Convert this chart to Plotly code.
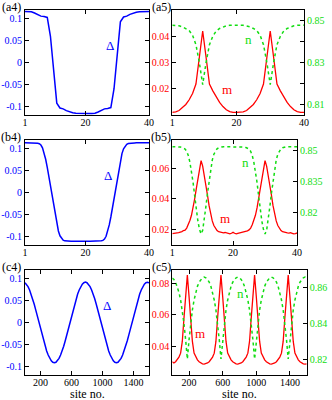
import plotly.graph_objects as go

W, H = 332, 400

# ---- row a: 40 sites ----
site_a = list(range(1, 41))
delta_a = [0.1165, 0.1165, 0.1160, 0.1130, 0.1090, 0.1060, 0.1050, 0.1030, 0.0600, -0.0250,
           -0.0930, -0.1040, -0.1060, -0.1100, -0.1130, -0.1150, -0.1160, -0.1165, -0.1165, -0.1165,
           -0.1165, -0.1165, -0.1160, -0.1130, -0.1090, -0.1060, -0.1050, -0.1030, -0.0600, 0.0250,
           0.0930, 0.1040, 0.1060, 0.1100, 0.1130, 0.1150, 0.1160, 0.1165, 0.1165, 0.1165]
m_a = [0.0110, 0.0112, 0.0117, 0.0127, 0.0140, 0.0158, 0.0182, 0.0218, 0.0320, 0.0420,
       0.0320, 0.0218, 0.0192, 0.0168, 0.0148, 0.0132, 0.0120, 0.0113, 0.0110, 0.0110,
       0.0110, 0.0112, 0.0117, 0.0127, 0.0140, 0.0158, 0.0182, 0.0218, 0.0320, 0.0420,
       0.0320, 0.0218, 0.0192, 0.0168, 0.0148, 0.0132, 0.0120, 0.0113, 0.0110, 0.0110]
n_a = [0.8477, 0.8477, 0.8475, 0.8470, 0.8462, 0.8452, 0.8430, 0.8385, 0.8300, 0.8195,
       0.8300, 0.8385, 0.8425, 0.8450, 0.8462, 0.8470, 0.8475, 0.8477, 0.8478, 0.8478,
       0.8477, 0.8477, 0.8475, 0.8470, 0.8462, 0.8452, 0.8430, 0.8385, 0.8300, 0.8195,
       0.8300, 0.8385, 0.8425, 0.8450, 0.8462, 0.8470, 0.8475, 0.8477, 0.8478, 0.8478]

# ---- row b: 40 sites, half-site grid ----
site_b = [1 + 0.5 * i for i in range(79)]
delta_b = [0.1135, 0.1135, 0.1135, 0.1135, 0.1135, 0.1134, 0.1133, 0.1130, 0.1125,
           0.1115, 0.1085, 0.1020, 0.0910, 0.0760, 0.0575, 0.0370, 0.0150, -0.0075, -0.0300,
           -0.0520, -0.0720, -0.0880, -0.0990, -0.1055, -0.1090, -0.1105, -0.1112,
           -0.1115, -0.1116, -0.1116, -0.1115, -0.1114, -0.1113, -0.1112, -0.1113, -0.1114, -0.1112,
           -0.1106, -0.1098, -0.1104, -0.1112, -0.1114, -0.1115, -0.1116, -0.1116, -0.1115, -0.1113,
           -0.1110, -0.1105,
           -0.1095, -0.1065, -0.1000, -0.0890, -0.0740, -0.0560, -0.0355, -0.0135, 0.0090, 0.0315,
           0.0535, 0.0735, 0.0890, 0.1000, 0.1065, 0.1100, 0.1118, 0.1126,
           0.1130, 0.1133, 0.1134, 0.1135, 0.1135, 0.1135, 0.1135, 0.1135, 0.1135, 0.1135, 0.1135, 0.1135]
m_b = [0.0172, 0.0175, 0.0177, 0.0177, 0.0178, 0.0180, 0.0185, 0.0192, 0.0195, 0.0208,
       0.0230, 0.0258, 0.0292, 0.0340, 0.0400, 0.0465, 0.0530, 0.0595, 0.0650, 0.0615,
       0.0560, 0.0495, 0.0425, 0.0355, 0.0298, 0.0255, 0.0225, 0.0205, 0.0192, 0.0184,
       0.0180, 0.0178, 0.0177, 0.0179, 0.0177, 0.0173, 0.0170, 0.0174, 0.0180, 0.0174,
       0.0170, 0.0173, 0.0176, 0.0178, 0.0178, 0.0180, 0.0184, 0.0190, 0.0196, 0.0208,
       0.0230, 0.0258, 0.0292, 0.0340, 0.0400, 0.0465, 0.0530, 0.0595, 0.0650, 0.0615,
       0.0560, 0.0495, 0.0425, 0.0355, 0.0298, 0.0255, 0.0225, 0.0205, 0.0192, 0.0184,
       0.0180, 0.0178, 0.0177, 0.0175, 0.0178, 0.0174, 0.0170, 0.0172, 0.0176]
n_b = [0.8516, 0.8516, 0.8516, 0.8515, 0.8515, 0.8514, 0.8512, 0.8510, 0.8505, 0.8494,
       0.8474, 0.8442, 0.8400, 0.8345, 0.8280, 0.8215, 0.8160, 0.8120, 0.8098, 0.8115,
       0.8165, 0.8228, 0.8292, 0.8355, 0.8410, 0.8452, 0.8480, 0.8497, 0.8506, 0.8511,
       0.8514, 0.8515, 0.8516, 0.8516, 0.8516, 0.8516, 0.8516, 0.8516, 0.8516, 0.8516,
       0.8516, 0.8516, 0.8516, 0.8515, 0.8515, 0.8514, 0.8512, 0.8510, 0.8505, 0.8494,
       0.8474, 0.8442, 0.8400, 0.8345, 0.8280, 0.8215, 0.8160, 0.8120, 0.8098, 0.8115,
       0.8165, 0.8228, 0.8292, 0.8355, 0.8410, 0.8452, 0.8480, 0.8497, 0.8506, 0.8511,
       0.8514, 0.8515, 0.8516, 0.8516, 0.8516, 0.8516, 0.8516, 0.8516, 0.8516]

# ---- row c: 1600 sites, read every 20 sites ----
site_c = [1] + list(range(20, 1601, 20))
delta_c = [0.0907, 0.0875, 0.0820, 0.0744, 0.0651, 0.0541, 0.0418, 0.0284, 0.0144, 0.0000,
           -0.0144, -0.0284, -0.0418, -0.0541, -0.0651, -0.0744, -0.0820, -0.0875, -0.0909, -0.0920,
           -0.0909, -0.0875, -0.0820, -0.0744, -0.0651, -0.0541, -0.0418, -0.0284, -0.0144, 0.0000,
           0.0144, 0.0284, 0.0418, 0.0541, 0.0651, 0.0744, 0.0820, 0.0875, 0.0909, 0.0922,
           0.0909, 0.0875, 0.0820, 0.0744, 0.0651, 0.0541, 0.0418, 0.0284, 0.0144, 0.0000,
           -0.0144, -0.0284, -0.0418, -0.0541, -0.0651, -0.0744, -0.0820, -0.0875, -0.0909, -0.0920,
           -0.0909, -0.0875, -0.0820, -0.0744, -0.0651, -0.0541, -0.0418, -0.0284, -0.0144, 0.0000,
           0.0144, 0.0284, 0.0418, 0.0541, 0.0651, 0.0744, 0.0820, 0.0875, 0.0909, 0.0920, 0.0909]
m_c = [0.0300, 0.0292, 0.0300, 0.0312, 0.0330, 0.0355, 0.0430, 0.0580, 0.0720, 0.0855,
       0.0720, 0.0580, 0.0430, 0.0355, 0.0330, 0.0312, 0.0300, 0.0292, 0.0287, 0.0285,
       0.0287, 0.0292, 0.0300, 0.0312, 0.0330, 0.0355, 0.0430, 0.0580, 0.0720, 0.0855,
       0.0720, 0.0580, 0.0430, 0.0355, 0.0330, 0.0312, 0.0300, 0.0292, 0.0287, 0.0285,
       0.0287, 0.0292, 0.0300, 0.0312, 0.0330, 0.0355, 0.0430, 0.0580, 0.0720, 0.0855,
       0.0720, 0.0580, 0.0430, 0.0355, 0.0330, 0.0312, 0.0300, 0.0292, 0.0287, 0.0285,
       0.0287, 0.0292, 0.0300, 0.0312, 0.0330, 0.0355, 0.0430, 0.0580, 0.0720, 0.0855,
       0.0720, 0.0580, 0.0430, 0.0355, 0.0330, 0.0312, 0.0300, 0.0292, 0.0287, 0.0285, 0.0287]
n_c = [0.8650, 0.8643, 0.8628, 0.8605, 0.8572, 0.8530, 0.8475, 0.8400, 0.8310, 0.8205,
       0.8310, 0.8400, 0.8475, 0.8530, 0.8572, 0.8605, 0.8628, 0.8643, 0.8652, 0.8656,
       0.8652, 0.8643, 0.8628, 0.8605, 0.8572, 0.8530, 0.8475, 0.8400, 0.8310, 0.8205,
       0.8310, 0.8400, 0.8475, 0.8530, 0.8572, 0.8605, 0.8628, 0.8643, 0.8652, 0.8656,
       0.8652, 0.8643, 0.8628, 0.8605, 0.8572, 0.8530, 0.8475, 0.8400, 0.8310, 0.8205,
       0.8310, 0.8400, 0.8475, 0.8530, 0.8572, 0.8605, 0.8628, 0.8643, 0.8652, 0.8656,
       0.8652, 0.8643, 0.8628, 0.8605, 0.8572, 0.8530, 0.8475, 0.8400, 0.8310, 0.8205,
       0.8310, 0.8400, 0.8475, 0.8530, 0.8572, 0.8605, 0.8628, 0.8643, 0.8652, 0.8656, 0.8652]

BLUE, RED, GREEN = "#0000ff", "#ff0000", "#11dd11"
FONT = "Liberation Serif"


def px_x(p):
    return p / W


def px_y(p):
    return 1 - p / H


rows = {"a": (10, 115), "b": (140, 245), "c": (270, 375)}
left_col = (25, 149)
right_end = {"a": 304, "b": 297, "c": 306.7}

fig = go.Figure()

base_ax = dict(showline=True, linecolor="black", linewidth=1, ticks="inside", ticklen=4,
               tickcolor="black", showgrid=False, zeroline=False, automargin=False,
               tickfont=dict(family=FONT, size=10, color="black"))


def xax(dom, anchor, rng, tv, tt):
    return dict(base_ax, domain=dom, anchor=anchor, range=rng, tickvals=tv, ticktext=tt,
                mirror="ticks", ticklabelstandoff=-2)


def yax(dom, anchor, rng, tv, tt, color, side="left", mirror=False, overlaying=None):
    d = dict(base_ax, anchor=anchor, range=rng, tickvals=tv, ticktext=tt, side=side, mirror=mirror)
    d["tickfont"] = dict(family=FONT, size=10, color=color)
    if overlaying:
        d["overlaying"] = overlaying
    else:
        d["domain"] = dom
    return d


panels = [
    ("a", site_a, delta_a, m_a, n_a, [1, 40], [1, 20, 40], ["1", "20", "40"],
     [-0.12, 0.12], [0.01, 0.05], [0.02, 0.03, 0.04], ["0.02", "0.03", "0.04"],
     [0.805, 0.855], [0.81, 0.82, 0.83, 0.84, 0.85], ["0.81", "", "0.83", "", "0.85"]),
    ("b", site_b, delta_b, m_b, n_b, [1, 40], [1, 20, 40], ["1", "20", "40"],
     [-0.12, 0.12], [0.0097, 0.0786], [0.02, 0.04, 0.06], ["0.02", "0.04", "0.06"],
     [0.8045, 0.8548], [0.82, 0.835, 0.85], ["0.82", "0.835", "0.85"]),
    ("c", site_c, delta_c, m_c, n_c, [1, 1600], [200, 600, 1000, 1400], ["200", "600", "1000", "1400"],
     [-0.12, 0.12], [0.0215, 0.0888], [0.04, 0.06, 0.08], ["0.04", "0.06", "0.08"],
     [0.8117, 0.8695], [0.82, 0.84, 0.86], ["0.82", "0.84", "0.86"]),
]


def xname(k, ax=False):
    if ax:
        return "xaxis" if k == 1 else f"xaxis{k}"
    return "x" if k == 1 else f"x{k}"


def yname(k, ax=False):
    if ax:
        return "yaxis" if k == 1 else f"yaxis{k}"
    return "y" if k == 1 else f"y{k}"


layout = {}
for i, (row, xs, d_vals, m_vals, n_vals, xr, xtv, xtt, dr, mr, mtv, mtt, nr, ntv, ntt) in enumerate(panels):
    top, bot = rows[row]
    ydom = [px_y(bot), px_y(top)]
    xl, xrt = 2 * i + 1, 2 * i + 2
    yd, ym, yn = 3 * i + 1, 3 * i + 2, 3 * i + 3

    layout[xname(xl, True)] = xax([px_x(left_col[0]), px_x(left_col[1])], yname(yd), xr, xtv, xtt)
    layout[yname(yd, True)] = yax(ydom, xname(xl), dr, [-0.1, -0.05, 0, 0.05, 0.1],
                                  ["-0.1", "-0.05", "0", "0.05", "0.1"], BLUE, mirror="ticks")
    layout[xname(xrt, True)] = xax([px_x(172.3), px_x(right_end[row])], yname(ym), xr, xtv, xtt)
    layout[yname(ym, True)] = yax(ydom, xname(xrt), mr, mtv, mtt, RED)
    layout[yname(yn, True)] = yax(ydom, xname(xrt), nr, ntv, ntt, GREEN, side="right",
                                  overlaying=yname(ym))

    fig.add_trace(go.Scatter(x=xs, y=d_vals, xaxis=xname(xl), yaxis=yname(yd), mode="lines",
                             line=dict(color=BLUE, width=1.5)))
    fig.add_trace(go.Scatter(x=xs, y=m_vals, xaxis=xname(xrt), yaxis=yname(ym), mode="lines",
                             line=dict(color=RED, width=1.3)))
    fig.add_trace(go.Scatter(x=xs, y=n_vals, xaxis=xname(xrt), yaxis=yname(yn), mode="lines",
                             line=dict(color=GREEN, width=1.5, dash="dot")))

ann = []


def label(text, x, y, color="black", size=12):
    ann.append(dict(text=text, x=px_x(x), y=px_y(y), xref="paper", yref="paper", showarrow=False,
                    xanchor="center", yanchor="middle", font=dict(family=FONT, size=size, color=color)))


for row, off in (("a", 0), ("b", 130), ("c", 260)):
    label(f"({row}4)", 11, 7 + off)
    label(f"({row}5)", 161, 7 + off)

label("Δ", 110, 45, BLUE, 13)
label("Δ", 108, 175, BLUE, 13)
label("Δ", 107, 305, BLUE, 13)
label("n", 248, 40, GREEN, 13)
label("m", 227, 90, RED, 13)
label("n", 245, 162, GREEN, 13)
label("m", 225, 218, RED, 13)
label("n", 240, 293, GREEN, 13)
label("m", 200, 333, RED, 13)
label("site no.", 87, 394, size=12)
label("site no.", 239, 394, size=12)

fig.update_layout(layout)
fig.update_layout(width=W, height=H, margin=dict(l=0, r=0, t=0, b=0), showlegend=False,
                  paper_bgcolor="white", plot_bgcolor="white", annotations=ann)

fig.write_html("out.html", config={"displayModeBar": False},
               post_script="document.body.style.margin='0';")
